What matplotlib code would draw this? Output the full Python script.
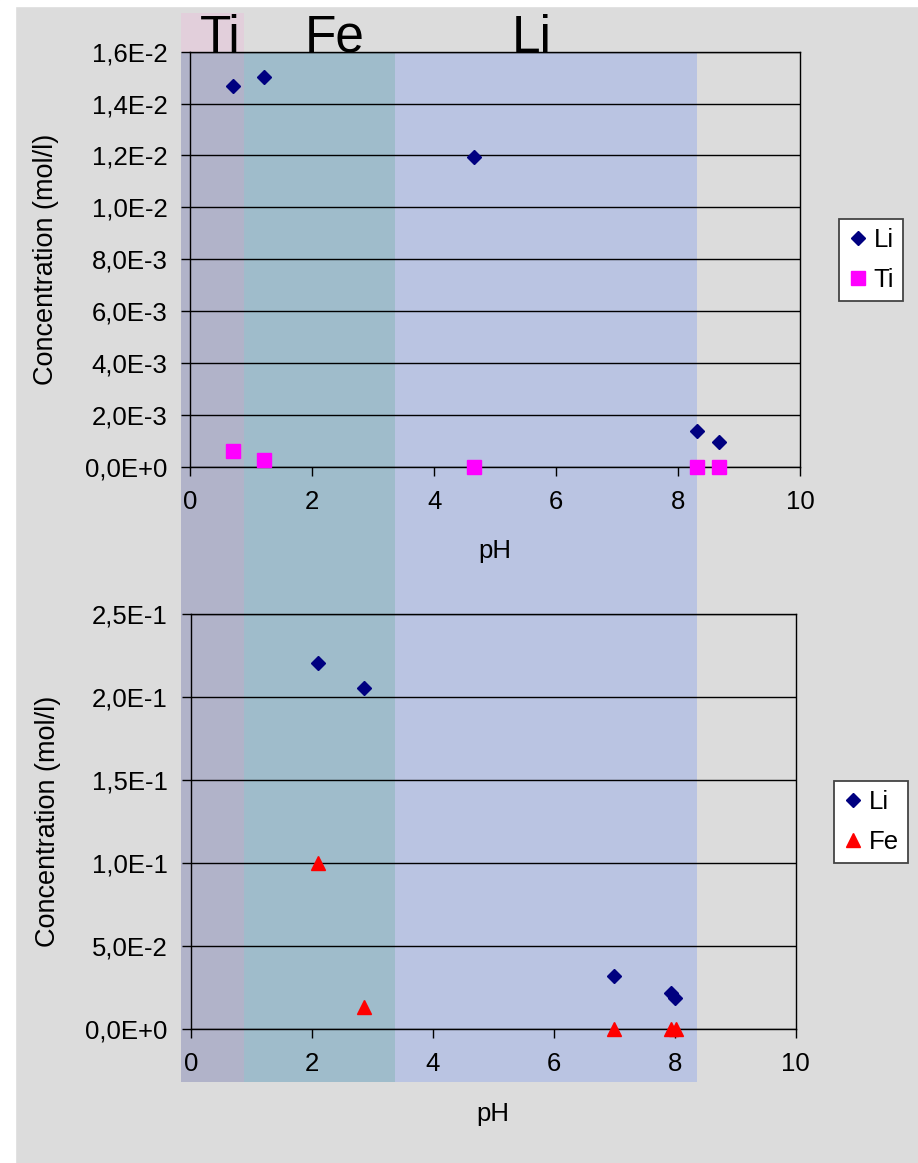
import numpy as np
import matplotlib
matplotlib.use("Agg")
import matplotlib.pyplot as plt
from matplotlib.patches import Rectangle
from matplotlib.transforms import blended_transform_factory

plt.rcParams['font.family'] = ['Liberation Sans', 'DejaVu Sans']

# --- DATA
li_top_ph = [0.70, 1.20, 4.65, 8.31, 8.66]
li_top_conc = [0.01467, 0.01503, 0.01193, 0.00139, 0.00095]
ti_top_ph = [0.70, 1.20, 4.65, 8.31, 8.66]
ti_top_conc = [0.00059, 0.00026, 0.0, 0.0, 0.0]

li_bot_ph = [2.10, 2.86, 7.00, 7.94, 8.00]
li_bot_conc = [0.2205, 0.2056, 0.0319, 0.0215, 0.0189]
fe_bot_ph = [2.10, 2.86, 7.00, 7.94, 8.02]
fe_bot_conc = [0.100, 0.0134, 0.0, 0.0, 0.0]

band_names = ['Ti', 'Fe', 'Li']
band_edges = [-0.16, 0.88, 3.36, 8.30]
band_label_ph = [0.49, 2.36, 5.60]
band_colors = ['#b1b3c9', '#9fbccb', '#bac4e2']

x_ticks = [0, 2, 4, 6, 8, 10]
top_yticks = np.arange(0, 0.0161, 0.002)
bot_yticks = np.arange(0, 0.2501, 0.05)

BG = '#dcdcdc'
W, H = 918, 1163


def sci_comma(v, pos=None):
    if abs(v) < 1e-12:
        return '0,0E+0'
    e = int(np.floor(np.log10(abs(v)) + 1e-9))
    m = round(v / 10 ** e, 1)
    if m >= 10:
        m /= 10
        e += 1
    return f"{m:.1f}".replace('.', ',') + f"E{e:+d}"


fig = plt.figure(figsize=(W / 100, H / 100), dpi=100, facecolor=BG)

ax1 = fig.add_axes([190.3 / W, 1 - 466.7 / H, 610 / W, 415 / H])
ax2 = fig.add_axes([190.7 / W, 1 - 1029 / H, 605 / W, 415 / H])

# white strips at top and left edge
fig.add_artist(Rectangle((0, 1 - 6 / H), 1, 6 / H, transform=fig.transFigure,
                         color='white', zorder=-2))
fig.add_artist(Rectangle((0, 0), 15 / W, 1, transform=fig.transFigure,
                         color='white', zorder=-2))

for ax, li_x, li_y, other_x, other_y, other_label, other_marker, other_color, other_ms, yt in [
    (ax1, li_top_ph, li_top_conc, ti_top_ph, ti_top_conc, 'Ti', 's', '#ff00ff', 10, top_yticks),
    (ax2, li_bot_ph, li_bot_conc, fe_bot_ph, fe_bot_conc, 'Fe', '^', '#ff0000', 10, bot_yticks),
]:
    ax.set_facecolor('none')
    ax.plot(li_x, li_y, 'D', ms=6.8, color='#000080', mec='#000080', ls='none',
            label='Li', clip_on=False, zorder=4)
    ax.plot(other_x, other_y, other_marker, ms=other_ms, color=other_color,
            mec=other_color, ls='none', label=other_label, clip_on=False, zorder=4)
    ax.set_xlim(0, 10)
    ax.set_ylim(yt[0], yt[-1])
    ax.set_xticks(x_ticks)
    ax.set_yticks(yt)
    ax.yaxis.set_major_formatter(plt.FuncFormatter(sci_comma))
    ax.grid(axis='y', color='black', lw=1)
    ax.set_axisbelow(True)
    for s in ax.spines.values():
        s.set_color('black')
        s.set_linewidth(1)
    ax.tick_params(direction='out', length=6.5, width=1, labelsize=18.5, pad=10,
                   color='black')
    ax.set_xlabel('pH', fontsize=18.5)
    ax.xaxis.set_label_coords(0.5, -0.175)
    ax.set_ylabel('Concentration (mol/l)', fontsize=19.5)
    ax.yaxis.set_label_coords(-0.215, 0.5)

leg_pos = [(839, 219), (834, 781)]
for ax, (lx, ly) in zip([ax1, ax2], leg_pos):
    leg = ax.legend(loc='upper left', bbox_to_anchor=(lx / W, 1 - ly / H),
                    bbox_transform=fig.transFigure, fontsize=18.5, fancybox=False,
                    edgecolor='#444444', framealpha=1, facecolor='white',
                    handlelength=0.8, handletextpad=0.2, borderpad=0.35,
                    labelspacing=0.62, borderaxespad=0, numpoints=1)
    leg.get_frame().set_linewidth(1.3)

# --- coloured pH bands, drawn across both charts
tr = blended_transform_factory(ax1.transData, fig.transFigure)
band_top = 1 - 51.7 / H
band_bot = 1 - 1082 / H
for i, name in enumerate(band_names):
    x0, x1 = band_edges[i], band_edges[i + 1]
    fig.add_artist(Rectangle((x0, band_bot), x1 - x0, band_top - band_bot,
                             transform=tr, color=band_colors[i], lw=0, zorder=-1))
    fig.text(band_label_ph[i], band_top, name, transform=tr, fontsize=37,
             ha='center', va='baseline', color='black')
fig.add_artist(Rectangle((band_edges[0], band_top), band_edges[1] - band_edges[0],
                         (51.7 - 13) / H, transform=tr, color='#e2cfdb', lw=0,
                         zorder=-1))

fig.savefig('out.png', dpi=100, facecolor=BG)
